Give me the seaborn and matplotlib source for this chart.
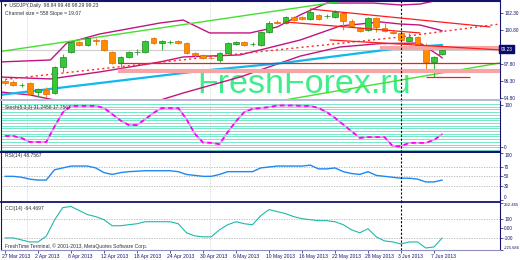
import numpy as np
import matplotlib
matplotlib.use("Agg")
import matplotlib.pyplot as plt
import matplotlib.transforms as mtransforms
import seaborn as sns

# ---------------- data ----------------
dates = ['27 Mar 2013', '2 Apr 2013', '8 Apr 2013', '12 Apr 2013', '18 Apr 2013', '24 Apr 2013',
         '30 Apr 2013', '6 May 2013', '10 May 2013', '16 May 2013', '22 May 2013', '28 May 2013',
         '3 Jun 2013', '7 Jun 2013']
date_bars = [0, 4, 8, 12, 16, 20, 24, 28, 32, 36, 40, 44, 48, 52]

opens = [96.30, 96.21, 95.92, 96.12, 95.33, 95.51, 95.24, 97.54, 98.86, 99.74,
         99.48, 99.92, 99.92, 98.86, 97.89, 98.42, 98.82, 98.86, 100.09, 99.65,
         99.72, 99.83, 99.65, 98.77, 98.60, 98.33, 98.15, 98.77, 99.56, 99.74,
         99.54, 99.48, 100.62, 101.51, 101.42, 101.95, 101.95, 101.77, 102.12, 102.01,
         101.95, 102.30, 101.59, 100.98, 100.80, 101.86, 100.98, 100.62, 100.54, 99.83,
         100.18, 99.48, 97.98, 98.68]
highs = [96.48, 96.39, 96.12, 96.21, 95.68, 95.77, 97.62, 98.68, 99.83, 99.83,
         100.18, 100.09, 100.01, 98.95, 98.51, 98.95, 99.12, 99.92, 100.18, 99.92,
         99.92, 99.92, 99.74, 98.86, 98.68, 98.42, 98.86, 99.74, 99.83, 99.83,
         99.74, 100.71, 101.59, 101.68, 102.04, 102.04, 102.04, 102.56, 102.21, 102.21,
         102.56, 102.39, 101.77, 101.07, 101.95, 101.95, 101.51, 100.80, 100.62, 100.54,
         100.27, 99.65, 98.51, 99.12]
lows = [95.95, 95.86, 95.77, 95.07, 94.89, 94.89, 95.15, 97.10, 98.77, 99.39,
        99.39, 99.48, 98.95, 97.80, 97.27, 98.33, 98.60, 98.77, 99.56, 99.04,
        99.56, 99.56, 98.68, 98.42, 98.24, 98.24, 97.98, 98.68, 99.48, 99.39,
        99.39, 99.39, 100.54, 101.33, 101.33, 101.59, 101.68, 101.68, 101.68, 101.86,
        101.86, 100.80, 101.07, 100.62, 100.71, 100.62, 100.62, 100.45, 99.56, 99.74,
        99.39, 97.18, 96.65, 98.60]
closes = [96.12, 95.95, 95.97, 95.15, 95.60, 95.15, 97.54, 98.42, 99.74, 99.48,
          100.09, 99.87, 99.04, 97.89, 98.42, 98.86, 98.86, 99.83, 99.65, 99.83,
          99.74, 99.65, 98.77, 98.60, 98.33, 98.29, 98.77, 99.65, 99.74, 99.48,
          99.56, 100.62, 101.42, 101.46, 101.95, 101.68, 101.77, 102.39, 101.77, 102.04,
          102.39, 101.59, 101.15, 100.71, 101.86, 101.07, 100.71, 100.54, 99.92, 100.18,
          99.48, 97.98, 98.42, 99.04]

# Bollinger-type bands (bar, price) read at turning points
bb_up_bar = [-0.6, 5.5, 7.5, 11.5, 18.8, 21.6, 24.8, 29.7, 33.0, 36.0, 39.0, 44.6, 48.0, 50.3, 52.0, 53.0]
bb_up_val = [97.98, 98.15, 99.65, 100.45, 101.42, 101.68, 100.54, 100.54, 101.07, 102.21, 103.18, 103.18, 103.01, 103.09, 103.36, 103.71]
bb_mid_bar = [-0.6, 5.5, 11.5, 18.8, 21.6, 28.5, 35.8, 40.6, 45.5, 47.9, 50.3, 52.7, 53.0]
bb_mid_val = [96.65, 96.48, 97.10, 97.98, 98.42, 98.60, 99.92, 101.15, 101.51, 101.33, 101.24, 100.80, 100.71]
bb_low_bar = [-0.6, 3.0, 6.0, 7.5, 10.0, 15.0, 18.5, 21.6, 28.5, 35.8, 40.6, 45.5, 50.3, 52.7, 53.0]
bb_low_val = [95.33, 95.07, 94.62, 94.10, 93.30, 93.57, 94.54, 95.24, 96.65, 98.50, 99.30, 99.60, 99.65, 98.51, 98.33]

ma_blue_bar = [-0.6, 11.5, 23.6, 33.7, 47.9, 53.0]
ma_blue_val = [95.07, 96.12, 97.18, 97.89, 99.21, 99.48]
ma_red_bar = [-0.6, 23.6, 47.9, 60.0]
ma_red_val = [96.39, 98.33, 100.18, 101.33]

# trend lines (bar start, bar end), (price start, price end)
green_up = ([-0.6, 60.0], [98.90, 105.39])
green_low = ([33.9, 60.0], [94.62, 97.89])
red_a = ([37.0, 58.8], [102.65, 101.07])
red_b = ([33.9, 50.3], [101.51, 100.54])
red_c = ([39.4, 60.0], [99.92, 99.04])
# horizontal levels (price, bar start, bar end)
levels_red = [(97.89, 13.7, 60.0), (96.65, 51.0, 56.4)]
levels_pink = [(97.18, 13.7, 60.0), (99.21, 45.5, 60.0)]
bid_price = 99.04

stoch = [26.5, 26.5, 21.7, 12, 12, 12, 49, 83, 99, 99,
         99, 99, 94, 79, 64, 53, 53, 67, 82, 94,
         94, 94, 67, 32, 11, 10, 7, 36, 62, 84,
         92, 94, 96, 100, 100, 100, 99, 99, 94, 84,
         70, 54, 38, 22, 24, 24, 24, 2, 2, 10,
         10, 10, 17, 31]
rsi = [50, 50, 48, 44, 42, 42, 64, 68, 72, 72,
       72, 68, 58, 54, 58, 60, 61, 62, 62, 62,
       62, 60, 54, 52, 50, 50, 54, 60, 60, 60,
       60, 68, 70, 72, 72, 72, 72, 74, 66, 66,
       68, 60, 56, 54, 60, 52, 50, 48, 46, 46,
       44, 38, 38, 42]
cci = [-100, -100, -121, -142, -142, -83, 85, 215, 226, 184,
       142, 121, 89, 26, 26, 37, 47, 68, 68, 68,
       68, 47, -47, -79, -89, -89, -16, 37, 68, 47,
       37, 131, 194, 173, 152, 121, 100, 89, 79, 79,
       68, 37, -16, -47, -5, -89, -131, -142, -163, -142,
       -142, -205, -194, -100]

price_ticks = [102.30, 100.80, 97.80, 96.30, 94.80]
price_tick_labels = ['102.30', '100.80', '97.80', '96.30', '94.80']
cci_ticks = [262.465, 100, 0, -100, -225.686]
cci_tick_labels = ['262.465', '100', '0.00', '-100', '-225.686']

# ---------------- style ----------------
sns.set_theme(style="white")
FAM = ['Liberation Sans', 'DejaVu Sans']
plt.rcParams['font.family'] = FAM
NAVY = '#14146e'

W, H = 520, 260
fig = plt.figure(figsize=(W / 100, H / 100), dpi=100)
fig.patch.set_facecolor('white')


def rect(top, bottom, left=1, right=500):
    return [left / W, 1 - bottom / H, (right - left) / W, (bottom - top) / H]


ax_m = fig.add_axes(rect(1, 100))
ax_s = fig.add_axes(rect(101, 152))
ax_r = fig.add_axes(rect(153, 202))
ax_c = fig.add_axes(rect(203, 250))
axes = [ax_m, ax_s, ax_r, ax_c]
XL = (-0.485, 60.0)

for ax in axes:
    ax.set_facecolor('white')
    ax.set_xlim(*XL)
    ax.yaxis.tick_right()
    ax.tick_params(axis='y', labelsize=3.4, colors=NAVY, length=2, width=0.5, pad=1)
    ax.tick_params(axis='x', bottom=False, labelbottom=False)
    for s in ax.spines.values():
        s.set_color(NAVY)
        s.set_linewidth(0.8)
    for gx in (2.67, 24.85):
        ax.axvline(gx, color='#c8c8d0', lw=0.6, ls=(0, (1, 1.5)), zorder=0.6)
    ax.axvline(48, color='#000050', lw=0.8, ls=(0, (2, 1.5)), zorder=6)

ax_m.spines['top'].set_linewidth(1.5)
ax_m.spines['bottom'].set_color('#b8b8dc')
ax_m.spines['bottom'].set_linewidth(1.4)
ax_s.spines['top'].set_visible(False)
ax_s.spines['bottom'].set_linewidth(1.6)
ax_r.spines['top'].set_visible(False)
ax_r.spines['bottom'].set_linewidth(1.3)
ax_c.spines['top'].set_visible(False)
ax_c.spines['bottom'].set_color('#9090c0')

# ---------------- main panel ----------------
ax_m.set_ylim(94.62, 103.36)
idx = np.arange(len(opens))
o, h, l, c = map(np.array, (opens, highs, lows, closes))
up = c >= o

ax_m.text(23.27, 95.24, 'FreshForex.ru', fontsize=24.5, color='#2beb7e', alpha=0.9,
          family=['Liberation Sans', 'DejaVu Sans'],
          ha='left', va='baseline', zorder=0.5)

ax_m.axhline(bid_price, color='#cfcfcf', lw=0.8, zorder=1)


def line(ax, xs, ys, color, lw, ls='-', z=2):
    sns.lineplot(x=np.asarray(xs, float), y=np.asarray(ys, float), ax=ax, color=color,
                 lw=lw, ls=ls, sort=False, estimator=None, legend=False, zorder=z)


line(ax_m, bb_up_bar, bb_up_val, '#c0157f', 1.0)
line(ax_m, bb_mid_bar, bb_mid_val, '#c0157f', 1.0)
line(ax_m, bb_low_bar, bb_low_val, '#c0157f', 1.0)
line(ax_m, ma_blue_bar, ma_blue_val, '#10b8f0', 1.6)
line(ax_m, ma_red_bar, ma_red_val, '#ff2a2a', 1.0, ls=(0, (1.5, 2.2)))
line(ax_m, *green_up, '#44e030', 1.0)
line(ax_m, *green_low, '#44e030', 1.0)
for tl in (red_a, red_b, red_c):
    line(ax_m, *tl, '#ff1a1a', 0.9, z=6)

for pv, x0, x1 in levels_pink:
    ax_m.hlines(pv, x0, x1, color='#f6a4a4', lw=3.0, zorder=5.5)
for pv, x0, x1 in levels_red:
    ax_m.hlines(pv, x0, x1, color='#ff1a1a', lw=0.9, zorder=6)

wick_col = np.where(up, '#38b838', '#f08a20')
ax_m.vlines(idx, l, h, colors=wick_col, lw=0.8, zorder=4)
body_lo = np.minimum(o, c)
body_h = np.maximum(np.abs(c - o), 0.04)
ax_m.bar(idx, body_h, bottom=body_lo, width=0.68,
         color=np.where(up, '#36c836', '#ff8c00'),
         edgecolor=np.where(up, '#1d861d', '#e06a00'), linewidth=0.5, zorder=5)

ax_m.set_yticks(price_ticks)
ax_m.set_yticklabels(price_tick_labels)
ax_m.text(1.001, 99.12, '99.23', transform=mtransforms.blended_transform_factory(ax_m.transAxes, ax_m.transData),
          fontsize=3.4, color='white', va='center', ha='left',
          bbox=dict(boxstyle='square,pad=0.25', fc='#0a0a6e', ec='#0a0a6e'), zorder=10, clip_on=False)

ax_m.text(0.004, 0.95, '\u25bc USDJPY,Daily  98.84 99.48 98.29 99.23', transform=ax_m.transAxes,
          fontsize=3.6, color='#303030', ha='left', va='center', zorder=9)
ax_m.text(0.008, 0.878, 'Channel size = 558 Slope = 19.07', transform=ax_m.transAxes,
          fontsize=3.6, color='#303030', ha='left', va='center', zorder=9)

# ---------------- stochastic ----------------
ax_s.set_ylim(-12, 110.8)
for v in np.arange(-7, 107, 6.5):
    ax_s.axhline(v, color='#74e8c8', lw=0.7, zorder=0.4)
line(ax_s, idx, stoch, '#e0a0e8', 1.3)
line(ax_s, idx, stoch, '#ff00ff', 1.3, ls=(0, (2.5, 2)), z=3)
ax_s.set_yticks([100, 0])
ax_s.set_yticklabels(['100', '0'])
ax_s.text(0.008, 0.88, 'Stoch(5,3,3) 31.2458 17.7567', transform=ax_s.transAxes,
          fontsize=3.6, color='#303030', ha='left', va='center', zorder=9)

# ---------------- RSI ----------------
ax_r.set_ylim(-5, 100)
for v in (70, 50, 30):
    ax_r.axhline(v, color='#b4b4b4', lw=0.6, ls=(0, (1.5, 1.5)), zorder=0.5)
line(ax_r, idx, rsi, '#1e88f0', 1.0)
ax_r.set_yticks([100, 70, 50, 30, 0])
ax_r.set_yticklabels(['100', '70', '50', '30', '0'])
rl = ax_r.get_yticklabels()
rl[0].set_va('top')
rl[-1].set_va('bottom')
ax_r.text(0.008, 0.94, 'RSI(14) 48.7567', transform=ax_r.transAxes,
          fontsize=3.6, color='#303030', ha='left', va='center', zorder=9)

# ---------------- CCI ----------------
ax_c.set_ylim(-225.686, 262.465)
for v in (100, -100):
    ax_c.axhline(v, color='#b4b4b4', lw=0.6, ls=(0, (1.5, 1.5)), zorder=0.5)
line(ax_c, idx, cci, '#20b8aa', 0.8)
ax_c.set_yticks(cci_ticks)
ax_c.set_yticklabels(cci_tick_labels)
cl = ax_c.get_yticklabels()
cl[0].set_va('top')
cl[0].set_fontsize(3.1)
cl[-1].set_va('bottom')
cl[-1].set_fontsize(2.9)
ax_c.text(0.008, 0.89, 'CCI(14) -64.4697', transform=ax_c.transAxes,
          fontsize=3.6, color='#303030', ha='left', va='center', zorder=9)
ax_c.text(0.008, 0.074, 'FreshTime Terminal, \u00a9 2001-2013, MetaQuotes Software Corp.',
          transform=ax_c.transAxes, fontsize=3.6, color='#303030', ha='left', va='center', zorder=9)

ax_c.tick_params(axis='x', bottom=True, labelbottom=True, labelsize=3.6, colors=NAVY,
                 length=2, width=0.5, pad=1)
ax_c.set_xticks(date_bars)
ax_c.set_xticklabels(dates)
off = mtransforms.ScaledTranslation(-3 / 100, 0, fig.dpi_scale_trans)
for lbl in ax_c.get_xticklabels():
    lbl.set_ha('left')
    lbl.set_transform(lbl.get_transform() + off)

for ax in axes:
    ax.set_xlabel('')
    ax.set_ylabel('')

fig.savefig('out.png', dpi=100, facecolor='white')
